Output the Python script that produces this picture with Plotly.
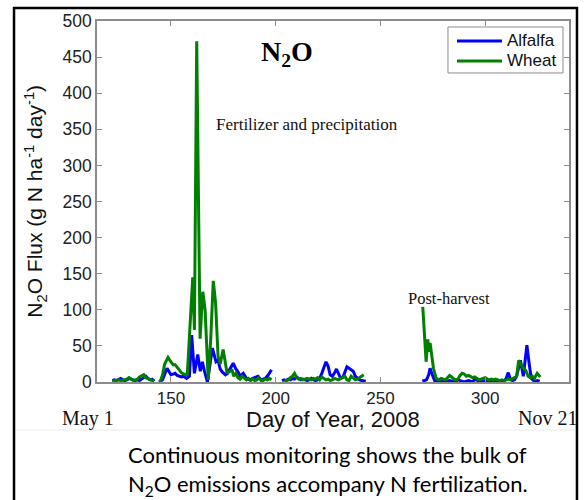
import plotly.graph_objects as go

# ---------------- data ----------------
alfalfa_days = [122, 123, 124, 125, 126, 127, 128, 129, 130, 131, 132, 133, 134, 135, 136, 137, 138, 139, 140, 141, 142,
                143,
                144.3, 146, 148.1, 149, 150, 151, 152, 153, 154, 155, 156, 157.5, 158.8, 159.9, 161.2, 162.8, 164, 165,
                166, 167.4, 169.8, 171.5, 172.5, 173.5, 174.5, 176, 177, 178, 179.7, 181, 182, 183, 184.5, 186, 187,
                188, 189, 190, 191.5, 193, 194, 195, 196.5, 198,
                200,
                203, 204, 205, 206, 207, 208, 209, 210, 211, 212, 213, 214, 215, 216, 217, 218, 219, 220, 221, 222, 223,
                224, 225, 226, 227, 228, 229, 230, 231, 232, 233, 234, 235, 236, 237, 238, 239, 240, 241, 242, 243,
                250,
                270, 271, 272, 273, 273.7, 275, 276, 277, 278, 279, 280, 281, 282, 283, 284, 285, 286, 287, 288, 289,
                290, 291, 292, 293, 294, 295, 296, 297, 298, 299, 300, 301, 302, 303, 304, 305, 306, 307, 308, 309,
                310, 311, 312, 313, 314, 315, 316, 316.8, 318.2, 319.9, 321, 322, 323, 324, 325, 326]
alfalfa_flux = [2, 3, 2, 4, 5, 3, 2, 3, 5, 4, 3, 2, 3, 2, 4, 6, 8, 5, 3, 4, 1,
                None,
                0, 3, 19, 14, 10, 11, 12, 9, 8, 7, 8, 5, 8, 65, 12, 38, 15, 28,
                15, 0, 47, 28, 30, 18, 14, 10, 12, 18, 26, 18, 14, 8, 12, 5, 4,
                3, 5, 6, 8, 3, 4, 5, 10, 17,
                None,
                2, 3, 2, 4, 3, 5, 4, 7, 5, 3, 4, 3, 2, 3, 5, 3, 2, 3, 5, 12, 20,
                28, 22, 10, 8, 12, 18, 10, 5, 6, 14, 21, 19, 17, 15, 8, 5, 3, 2, 2, 1,
                None,
                1, 2, 3, 10, 19, 8, 1, 0, 1, 2, 1, 0, 1, 2, 1, 0, 1, 3, 2, 1,
                0, 1, 2, 1, 0, 4, 2, 1, 0, 1, 2, 1, 0, 1, 2, 1, 0, 1, 2, 1,
                5, 13, 4, 2, 3, 8, 22, 30, 8, 51, 25, 5, 2, 1, 2, 1]

wheat_days = [122, 123, 124, 125, 126, 127, 128, 129, 130, 131, 132, 133, 134, 135, 136, 137, 138, 139, 140, 141, 142,
              143,
              144.8, 146, 147, 148.6, 150, 151, 152, 153, 154, 155, 156, 157.8, 160.4, 161.2, 162.3, 163.9, 165.2,
              166.3, 167.8, 169, 170.2, 171.3, 172.5, 173.5, 174.9, 175.8, 176.8, 178, 179.2, 180, 181, 182, 183, 184,
              185, 186, 187, 188, 189, 190, 191, 192, 193, 194, 195, 196, 197, 198,
              200,
              204, 205, 206, 207, 208, 209, 210, 211, 212, 213, 214, 215, 216, 217, 218, 219, 220, 221, 222, 223, 224,
              225, 226, 227, 228, 229, 230, 231, 232, 233, 234, 235, 236, 237, 238, 239, 240, 241, 242,
              250,
              270.2, 271.8, 272.6, 273.1, 273.7, 274.5, 275.3, 276.6, 278, 279, 280, 281, 282, 283, 284, 285, 286, 287,
              288, 289, 290, 291, 292, 293, 294, 295, 296, 297, 298, 299, 300, 301, 302, 303, 304, 305, 306, 307, 308,
              309, 310, 311, 312, 313, 314, 315, 316, 317.8, 319.4, 320.5, 321.5, 322.5, 323.5, 324.8, 326.3]
wheat_flux = [1, 2, 2, 3, 2, 2, 3, 4, 6, 4, 2, 3, 4, 7, 9, 10, 6, 5, 3, 2, 1,
              None,
              0, 10, 25, 34, 28, 24, 24, 20, 17, 13, 11, 10, 145, 72, 472, 60, 125,
              100, 3, 60, 140, 110, 35, 25, 45, 28, 12, 15, 16, 8, 12, 6, 4, 8,
              5, 3, 5, 2, 4, 2, 3, 6, 2, 2, 4, 3, 5, 3,
              None,
              1, 2, 3, 6, 8, 12, 6, 4, 5, 3, 4, 5, 4, 3, 5, 4, 6, 3, 7, 5, 3,
              4, 2, 3, 5, 4, 3, 5, 7, 8, 3, 2, 8, 5, 3, 4, 6, 8, 10,
              None,
              104, 28, 59, 42, 54, 35, 19, 5, 3, 5, 4, 3, 6, 9, 7, 4, 3, 4,
              9, 12, 11, 8, 9, 8, 6, 7, 5, 3, 4, 5, 6, 4, 3, 4, 3, 4, 3, 2, 3,
              2, 3, 4, 3, 4, 6, 8, 30, 21, 16, 8, 6, 8, 5, 12, 7]

series_names = ["Alfalfa", "Wheat"]
series_colors = ["#0000ff", "#008000"]
x_ticks = [150, 200, 250, 300]
y_ticks = [0, 50, 100, 150, 200, 250, 300, 350, 400, 450, 500]
x_range = [114.7, 340]
y_range = [0, 500]

SANS = "Liberation Sans, Arial, sans-serif"
SERIF = "Liberation Serif, Times New Roman, serif"
CAP = "Lato, Open Sans, sans-serif"
AXC = "#8c8c8c"

fig = go.Figure()
for name, color, xs, ys in [(series_names[0], series_colors[0], alfalfa_days, alfalfa_flux),
                            (series_names[1], series_colors[1], wheat_days, wheat_flux)]:
    fig.add_trace(go.Scatter(x=xs, y=ys, mode="lines", name=name,
                             line=dict(color=color, width=3), connectgaps=False, showlegend=False))

fig.update_layout(
    width=587, height=500,
    margin=dict(l=97, r=18, t=21, b=118),
    paper_bgcolor="white", plot_bgcolor="white",
    font=dict(family=SANS, color="#222"),
    showlegend=False,
    xaxis=dict(range=x_range, tickvals=x_ticks, ticks="inside", ticklen=5, tickcolor=AXC,
               showline=True, linecolor=AXC, linewidth=1.5, mirror="ticks",
               showgrid=False, zeroline=False, tickfont=dict(size=17, color="#222"),
               ticklabelstandoff=0),
    yaxis=dict(range=y_range, tickvals=y_ticks, ticks="inside", ticklen=5, tickcolor=AXC,
               showline=True, linecolor=AXC, linewidth=1.5, mirror="ticks",
               showgrid=False, zeroline=False, tickfont=dict(size=17.5, color="#222"),
               ticklabelstandoff=0),
)

# legend box (drawn like the MATLAB legend)
lg_x0, lg_x1, lg_y0, lg_y1 = 0.7436, 0.9873, 0.856, 0.9834
row_y = [0.9446, 0.8892]
shapes = [dict(type="rect", xref="paper", yref="paper", x0=lg_x0, x1=lg_x1, y0=lg_y0, y1=lg_y1,
               line=dict(color=AXC, width=1), fillcolor="white", layer="above")]
annotations = []
for name, color, yy in zip(series_names, series_colors, row_y):
    shapes.append(dict(type="line", xref="paper", yref="paper", x0=0.7627, x1=0.858, y0=yy, y1=yy,
                       line=dict(color=color, width=3), layer="above"))
    annotations.append(dict(text=name, xref="paper", yref="paper", x=0.8644, y=yy, showarrow=False,
                            xanchor="left", yanchor="middle", font=dict(size=17, family=SANS, color="#111")))

annotations += [
    dict(text="N<sub>2</sub>O Flux (g N ha<sup>-1</sup> day<sup>-1</sup>)", xref="paper", yref="paper",
         x=-0.131, y=0.5, textangle=-90, showarrow=False, font=dict(size=21, family=SANS, color="#111"),
         xanchor="center", yanchor="middle"),
    dict(text="Day of Year, 2008", xref="paper", yref="paper", x=0.5, y=-0.105, showarrow=False,
         font=dict(size=22, family=SANS, color="#111"), xanchor="center", yanchor="middle"),
    dict(text="May 1", xref="paper", yref="paper", x=-0.019, y=-0.1, showarrow=False,
         font=dict(size=20, family=SERIF, color="#111"), xanchor="center", yanchor="middle"),
    dict(text="Nov 21", xref="paper", yref="paper", x=0.9555, y=-0.1, showarrow=False,
         font=dict(size=20, family=SERIF, color="#111"), xanchor="center", yanchor="middle"),
    dict(text="<b>N<sub>2</sub>O</b>", xref="x", yref="y", x=205.4, y=455, showarrow=False,
         font=dict(size=28, family=SERIF, color="#000"), xanchor="center", yanchor="middle"),
    dict(text="Fertilizer and precipitation", xref="x", yref="y", x=215, y=356, showarrow=False,
         font=dict(size=17, family=SERIF, color="#111"), xanchor="center", yanchor="middle"),
    dict(text="Post-harvest", xref="x", yref="y", x=282.8, y=116, showarrow=False,
         font=dict(size=16.5, family=SERIF, color="#111"), xanchor="center", yanchor="middle"),
    dict(text="Continuous monitoring shows the bulk of", xref="paper", yref="paper", x=0.489, y=-0.202,
         showarrow=False, font=dict(size=22, family=CAP, color="#000"),
         xanchor="center", yanchor="middle"),
    dict(text="N<sub>2</sub>O emissions accompany N fertilization.", xref="paper", yref="paper", x=0.489,
         y=-0.285, showarrow=False, font=dict(size=22, family=CAP, color="#000"),
         xanchor="center", yanchor="middle"),
]

# outer black frame and faint separator
shapes.append(dict(type="rect", xref="paper", yref="paper", x0=-0.1758, x1=1.0169, y0=-0.45, y1=1.036,
                   line=dict(color="black", width=2.5), fillcolor="rgba(0,0,0,0)", layer="above"))
shapes.append(dict(type="line", xref="paper", yref="paper", x0=-0.17, x1=1.012, y0=-0.133, y1=-0.133,
                   line=dict(color="#ececec", width=1)))
fig.update_layout(shapes=shapes, annotations=annotations)

fig.write_html("out.html", config={"displayModeBar": False},
               post_script="document.body.style.margin='0px';document.body.style.overflow='hidden';")
